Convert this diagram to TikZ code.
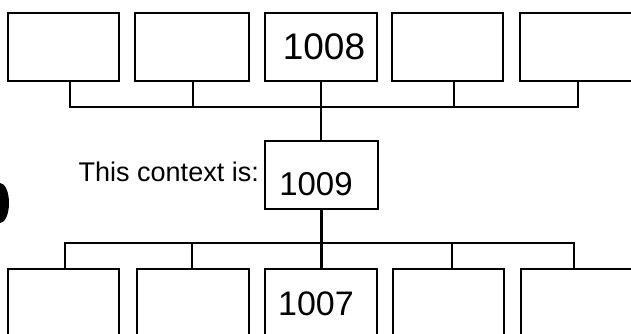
\documentclass[tikz,border=0pt]{standalone}
\usepackage{fontspec}
\setmainfont{Liberation Sans}
\begin{document}
\begin{tikzpicture}[x=1pt,y=1pt,
  box/.style={draw=black, line width=2.7pt, fill=white, inner sep=0pt},
  conn/.style={draw=black, line width=2.5pt, line cap=rect, line join=miter},
  hand/.style={font=\fontsize{#1}{#1}\selectfont},
  lbl/.style={font=\fontsize{27}{31}\selectfont, anchor=base east, inner sep=0pt}]
\useasboundingbox (0,0) rectangle (631,-334);
\fill[white] (0,0) rectangle (631,-334);
\clip (0,0) rectangle (631,-334);
% top row
\node[box, minimum width=111pt, minimum height=68pt] (t1) at (63.5,-47) {};
\node[box, minimum width=114pt, minimum height=68pt] (t2) at (192,-47) {};
\node[box, minimum width=112pt, minimum height=68pt] (t3) at (321,-47) {};
\node[box, minimum width=111pt, minimum height=68pt] (t4) at (447.5,-47) {};
\node[box, minimum width=120pt, minimum height=68pt] (t5) at (580,-47) {};
\node[hand=37] (n1008) at (324,-47) {1008};
% middle
\node[box, minimum width=113pt, minimum height=68pt] (m) at (321.5,-175) {};
\node[hand=33] (n1009) at (316,-184) {1009};
\node[lbl] (ctx) at (259,-181) {This context is:};
% bottom row
\node[box, minimum width=111pt, minimum height=91pt] (b1) at (63.5,-314.5) {};
\node[box, minimum width=112pt, minimum height=91pt] (b2) at (193,-314.5) {};
\node[box, minimum width=112pt, minimum height=91pt] (b3) at (321,-314.5) {};
\node[box, minimum width=111pt, minimum height=91pt] (b4) at (448.5,-314.5) {};
\node[box, minimum width=119pt, minimum height=91pt] (b5) at (580.5,-314.5) {};
\node[hand=34] (n1007) at (316,-304) {1007};
% buses
\coordinate (tb) at (0,-107);
\coordinate (bb) at (0,-243);
\draw[conn] ([xshift=6.5pt]t1.south) -- ([xshift=6.5pt]t1.south |- tb) -- ([xshift=-2pt]t5.south |- tb) -- ([xshift=-2pt]t5.south);
\draw[conn] ([xshift=1pt]t2.south) -- ([xshift=1pt]t2.south |- tb);
\draw[conn] ([xshift=6.5pt]t4.south) -- ([xshift=6.5pt]t4.south |- tb);
\draw[conn] (t3.south) -- (t3.south |- m.north);
\draw[conn] (m.south) -- (m.south |- b3.north);
\draw[conn] ([xshift=1.5pt]b1.north) -- ([xshift=1.5pt]b1.north |- bb) -- ([xshift=-6.5pt]b5.north |- bb) -- ([xshift=-6.5pt]b5.north);
\draw[conn] ([xshift=-1pt]b2.north) -- ([xshift=-1pt]b2.north |- bb);
\draw[conn] ([xshift=3.5pt]b4.north) -- ([xshift=3.5pt]b4.north |- bb);
% punch hole mark
\fill[black] (0,-203) ellipse (9pt and 20pt);
\end{tikzpicture}
\end{document}
